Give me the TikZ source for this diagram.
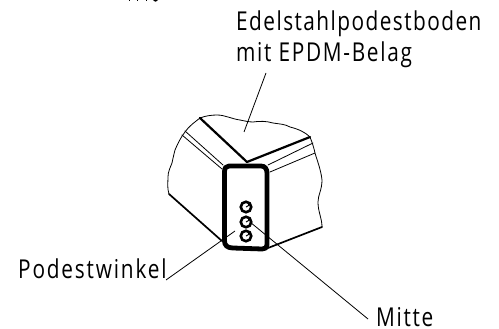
\documentclass[tikz,border=0pt]{standalone}
\usepackage{fontspec}
\setmainfont{Open Sans}[FakeStretch=0.8]
\tikzset{
  thin line/.style={line width=0.8pt,line join=round,line cap=round},
  edge line/.style={line width=1.7pt,line cap=round},
  thick line/.style={line width=2.2pt,line join=round,line cap=round},
  heavy line/.style={line width=4.8pt,line join=round},
  leader/.style={line width=0.8pt},
  lab/.style={inner sep=0pt,anchor=base west,font=\fontsize{26}{26}\selectfont},
  bolt/.style={circle,line width=2.6pt,draw=black,fill=white,minimum size=10.5pt,inner sep=0pt}
}
\begin{document}
\begin{tikzpicture}[x=1pt,y=-1pt]
\useasboundingbox (0,0) rectangle (499,329);
\fill[white] (0,0) rectangle (499,329);
\node[lab] (t1) at (236,31) {\addfontfeatures{LetterSpace=5.6}Edelstahlpodestboden};
\node[lab] (t2) at (236,62) {\addfontfeatures{LetterSpace=6.5}mit EPDM-Belag};
\node[lab] (t3) at (18,278) {\addfontfeatures{LetterSpace=7}Podestwinkel};
\node[lab] (t4) at (376,326) {\addfontfeatures{LetterSpace=6.5}Mitte};
% remnants of a cut-off text at the top edge
\fill (128.5,0) rectangle (130,1.2);
\fill (136.5,0) rectangle (138,1.2);
\fill (145.5,0) rectangle (147,1.2);
\fill (153,0) -- (158,0) -- (156,1.6) -- (155,1.6) -- cycle;
% torn outline
\draw[thin line] (169,194) .. controls (167,188) and (168,182) .. (168,177)
  .. controls (168,172) and (170,168) .. (172,163)
  .. controls (173,158) and (174,154) .. (175,150)
  .. controls (178,143) and (181,137) .. (185,132)
  .. controls (189,126) and (195,122) .. (200,118)
  .. controls (205,116) and (211,115) .. (217,115)
  .. controls (225,115) and (232,119) .. (240,120)
  .. controls (245,121) and (249,122) .. (253,122)
  .. controls (260,121) and (266,121) .. (273,123)
  .. controls (279,124) and (285,124) .. (290,127)
  .. controls (298,129) and (305,132) .. (310,137)
  .. controls (312,142) and (314,148) .. (315,153)
  .. controls (317,160) and (321,170) .. (322,180)
  .. controls (322,190) and (318,195) .. (318,202)
  .. controls (318,212) and (322,218) .. (322,227);
% lower edges
\draw[edge line] (169,194) -- (222,241);
\draw[edge line] (268,248) -- (322,227);
% ridge lines
\draw[thick line] (200,118) -- (247,162) -- (310,137);
\draw[thin line] (185,131) -- (223,165);
\draw[thin line] (182,135) -- (222,169);
\draw[thin line] (268,165) -- (313,143);
\draw[thin line] (270,172) -- (315,153);
% plate
\draw[heavy line] (229,166) -- (261,166) .. controls (265,166) and (267,169) .. (267,173)
  -- (267,245) .. controls (267,248) and (265,249) .. (262,249)
  -- (233,248) .. controls (227,248) and (224.5,245) .. (224.5,241)
  -- (224.5,172) .. controls (224.5,168) and (226,166) .. (229,166) -- cycle;
% bolts
\foreach \n/\yy in {a/207,b/222,c/236}{
  \node[bolt] (\n) at (246,\yy) {};
  \draw[line width=1pt] (\n.center) arc (-90:20:3pt);
}
% leaders
\coordinate (bodenstart) at (266,73);
\coordinate (bodenend) at (244,132);
\coordinate (winkelstart) at (166,280);
\coordinate (winkelend) at (235,231);
\coordinate (mitteend) at (368,319);
\draw[leader] (bodenstart) -- (bodenend);
\draw[leader] (winkelstart) -- (winkelend);
\draw[leader] (b.center) ++(4,0) -- (mitteend);
\end{tikzpicture}
\end{document}
